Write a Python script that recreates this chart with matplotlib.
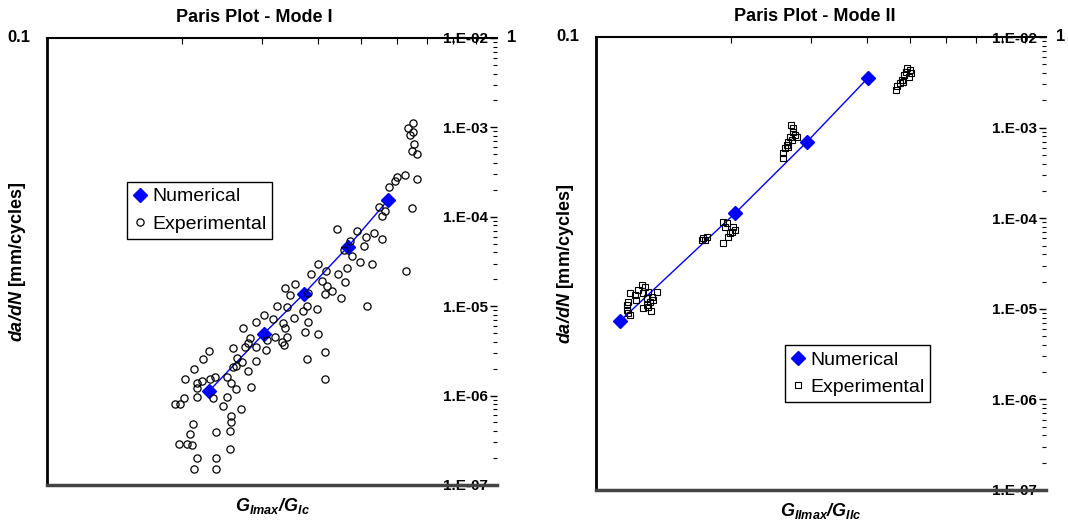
import matplotlib
matplotlib.use("Agg")
import matplotlib.pyplot as plt
from matplotlib.ticker import FixedLocator, LogLocator, NullFormatter
from matplotlib.transforms import ScaledTranslation
import numpy as np

plt.rcParams["font.family"] = "Liberation Sans"
plt.rcParams["mathtext.fontset"] = "custom"
plt.rcParams["mathtext.rm"] = "Liberation Sans"
plt.rcParams["mathtext.it"] = "Liberation Sans:italic"
plt.rcParams["mathtext.bf"] = "Liberation Sans:bold"
plt.rcParams["mathtext.bfit"] = "Liberation Sans:italic:bold"

# Mode I - numerical (Paris law fit)
num1_x = [0.229, 0.303, 0.372, 0.466, 0.573]
num1_y = [1.12e-6, 4.9e-6, 1.37e-5, 4.6e-5, 1.54e-4]

# Mode I - experimental
exp1_x = [0.338, 0.356, 0.347, 0.419, 0.415, 0.380, 0.324, 0.342, 0.398, 0.371,
          0.378, 0.514, 0.303, 0.292, 0.318, 0.334, 0.354, 0.380, 0.272, 0.338,
          0.374, 0.400, 0.283, 0.308, 0.321, 0.333, 0.342, 0.259, 0.280, 0.275,
          0.292, 0.306, 0.336, 0.229, 0.222, 0.264, 0.271, 0.292, 0.378, 0.415,
          0.212, 0.259, 0.263, 0.280, 0.251, 0.236, 0.230, 0.203, 0.221, 0.215,
          0.216, 0.216, 0.234, 0.251, 0.257, 0.263, 0.284, 0.415, 0.246, 0.202,
          0.193, 0.198, 0.270, 0.256, 0.257, 0.211, 0.255, 0.237, 0.208, 0.197,
          0.205, 0.210, 0.255, 0.216, 0.237, 0.212, 0.237, 0.651, 0.634, 0.651,
          0.641, 0.654, 0.647, 0.664, 0.624, 0.664, 0.599, 0.593, 0.575, 0.547,
          0.564, 0.556, 0.647, 0.533, 0.556, 0.512, 0.507, 0.627, 0.442, 0.489,
          0.471, 0.457, 0.476, 0.496, 0.527, 0.464, 0.444, 0.417, 0.408, 0.459,
          0.431, 0.450, 0.400, 0.386]
exp1_y = [1.60e-5, 1.77e-5, 1.33e-5, 1.68e-5, 1.37e-5, 1.40e-5, 1.00e-5, 9.8e-6, 9.3e-6, 8.8e-6,
          1.00e-5, 1.00e-5, 7.98e-6, 6.67e-6, 7.2e-6, 6.5e-6, 7.4e-6, 6.67e-6, 5.7e-6, 5.7e-6,
          5.17e-6, 4.9e-6, 4.4e-6, 4.19e-6, 4.5e-6, 3.98e-6, 4.5e-6, 3.4e-6, 3.88e-6, 3.48e-6,
          3.48e-6, 3.24e-6, 3.68e-6, 3.16e-6, 2.57e-6, 2.64e-6, 2.38e-6, 2.44e-6, 2.57e-6, 3.10e-6,
          1.98e-6, 2.08e-6, 2.14e-6, 1.88e-6, 1.62e-6, 1.62e-6, 1.53e-6, 1.53e-6, 1.45e-6, 1.38e-6,
          1.21e-6, 9.6e-7, 9.4e-7, 9.6e-7, 1.38e-6, 1.18e-6, 1.24e-6, 1.53e-6, 7.6e-7, 9.4e-7,
          8.1e-7, 8.1e-7, 7.1e-7, 5.9e-7, 5.1e-7, 4.8e-7, 4.0e-7, 3.9e-7, 3.7e-7, 2.9e-7,
          2.9e-7, 2.8e-7, 2.5e-7, 2.0e-7, 2.0e-7, 1.5e-7, 1.5e-7, 1.12e-3, 9.8e-4, 8.9e-4,
          8.2e-4, 6.5e-4, 5.45e-4, 5.05e-4, 2.94e-4, 2.65e-4, 2.8e-4, 2.52e-4, 2.14e-4, 1.29e-4,
          1.16e-4, 1.02e-4, 1.25e-4, 6.6e-5, 5.6e-5, 5.9e-5, 4.7e-5, 2.48e-5, 7.3e-5, 6.9e-5,
          5.35e-5, 4.25e-5, 3.64e-5, 3.1e-5, 3.0e-5, 2.66e-5, 2.29e-5, 2.48e-5, 1.9e-5, 1.85e-5,
          1.48e-5, 1.23e-5, 2.95e-5, 2.29e-5]

# Mode II - numerical
num2_x = [0.113, 0.204, 0.294, 0.402]
num2_y = [7.3e-6, 1.14e-4, 6.93e-4, 3.53e-3]

# Mode II - experimental
exp2_x = [0.1265, 0.1285, 0.124, 0.119, 0.122, 0.127, 0.1305, 0.1366, 0.133, 0.130,
          0.123, 0.118, 0.117, 0.132, 0.134, 0.1305, 0.127, 0.1325, 0.117, 0.118,
          0.119, 0.130,
          0.173, 0.1765, 0.175, 0.172, 0.1915, 0.1935, 0.2016, 0.2037, 0.1985, 0.1965,
          0.1915, 0.2005, 0.1955,
          0.271, 0.274, 0.274, 0.277, 0.280, 0.270, 0.267, 0.266, 0.263, 0.260,
          0.260, 0.267, 0.273,
          0.491, 0.489, 0.484, 0.479, 0.474, 0.467, 0.464, 0.481, 0.499, 0.501, 0.496]
exp2_y = [1.83e-5, 1.74e-5, 1.61e-5, 1.49e-5, 1.42e-5, 1.49e-5, 1.53e-5, 1.53e-5, 1.35e-5, 1.32e-5,
          1.25e-5, 1.19e-5, 1.10e-5, 1.19e-5, 1.25e-5, 1.05e-5, 1.02e-5, 9.5e-6, 9.7e-6, 9.0e-6,
          8.55e-6, 1.10e-5,
          6.05e-5, 6.2e-5, 5.75e-5, 5.75e-5, 9.08e-5, 8.0e-5, 8.0e-5, 7.4e-5, 6.87e-5, 6.2e-5,
          5.32e-5, 7.05e-5, 8.85e-5,
          1.07e-3, 9.9e-4, 8.94e-4, 8.28e-4, 7.87e-4, 7.87e-4, 6.93e-4, 6.43e-4, 5.95e-4, 5.24e-4,
          4.62e-4, 6.1e-4, 7.3e-4,
          4.55e-3, 4.11e-3, 3.81e-3, 3.35e-3, 3.11e-3, 2.88e-3, 2.60e-3, 3.19e-3, 4.32e-3, 4.0e-3, 3.62e-3]

x_ticks = [0.1, 1]
x_tick_labels = ["0.1", "1"]
y_ticks = [1e-7, 1e-6, 1e-5, 1e-4, 1e-3, 1e-2]
y_tick_labels = ["1.E-07", "1.E-06", "1.E-05", "1.E-04", "1.E-03", "1.E-02"]


def style_axes(fig, ax):
    ax.set_xscale("log")
    ax.set_yscale("log")
    ax.set_xlim(0.1, 1)
    ax.set_ylim(1e-7, 1e-2)

    ax.spines["right"].set_visible(False)
    ax.spines["left"].set_linewidth(2)
    ax.spines["top"].set_linewidth(1.5)
    ax.spines["bottom"].set_linewidth(2.5)
    ax.spines["bottom"].set_color("#444444")

    # x axis: labels on top, minor ticks pointing down
    ax.xaxis.tick_top()
    ax.xaxis.set_major_locator(FixedLocator(x_ticks))
    ax.xaxis.set_minor_locator(LogLocator(base=10, subs=np.arange(2, 10)))
    ax.xaxis.set_minor_formatter(NullFormatter())
    ax.set_xticks(x_ticks, labels=x_tick_labels)
    ax.tick_params(axis="x", which="major", length=0, pad=-5,
                   labelsize=12)
    ax.tick_params(axis="x", which="minor", direction="in", length=4,
                   width=0.8)
    for lbl in ax.get_xticklabels():
        lbl.set_fontweight("bold")
    ticks = ax.xaxis.get_major_ticks()
    ticks[0].label2.set_horizontalalignment("right")
    ticks[0].label2.set_transform(ticks[0].label2.get_transform()
                                  + ScaledTranslation(-12 / 72, 0, fig.dpi_scale_trans))
    ticks[1].label2.set_horizontalalignment("left")
    ticks[1].label2.set_transform(ticks[1].label2.get_transform()
                                  + ScaledTranslation(7 / 72, 0, fig.dpi_scale_trans))

    # y axis: ticks on right edge, labels inside the box
    ax.yaxis.tick_right()
    ax.yaxis.set_label_position("left")
    ax.set_yticks(y_ticks, labels=y_tick_labels)
    ax.yaxis.set_minor_locator(LogLocator(base=10, subs=np.arange(2, 10), numticks=50))
    ax.yaxis.set_minor_formatter(NullFormatter())
    ax.tick_params(axis="y", which="major", direction="in", length=5,
                   width=1, pad=-6.5, labelsize=11)
    ax.tick_params(axis="y", which="minor", direction="in", length=3,
                   width=0.8)
    for tick in ax.yaxis.get_major_ticks():
        tick.label2.set_horizontalalignment("right")
        tick.label2.set_fontweight("bold")


def add_legend(ax, anchor):
    ax.legend(loc="upper left", bbox_to_anchor=anchor,
              borderaxespad=0, fontsize=14, frameon=True, fancybox=False,
              edgecolor="black", framealpha=1, handlelength=0.7,
              handletextpad=0.3, borderpad=0.3, labelspacing=0.5)


def main():
    fig = plt.figure(figsize=(10.68, 5.23), dpi=100)
    ax1 = fig.add_axes([0.044, 0.0727, 0.4213, 0.8547])
    ax2 = fig.add_axes([0.558, 0.0631, 0.4213, 0.866])

    # Mode I
    ax1.plot(num1_x, num1_y, color="blue", lw=1)
    ax1.plot(num1_x, num1_y, "D", color="blue", ms=7, ls="none",
             label="Numerical")
    ax1.plot(exp1_x, exp1_y, "o", mfc="none", mec="black", mew=0.9, ms=5.2,
             ls="none", label="Experimental")
    style_axes(fig, ax1)
    ax1.set_title("Paris Plot - Mode I", fontsize=13, fontweight="bold",
                  x=0.46, pad=6)
    ax1.set_ylabel(r"$\mathbfit{da/dN}$ [mm/cycles]", fontsize=13,
                   fontweight="bold", labelpad=14)
    ax1.set_xlabel(r"$\mathbfit{G_{Imax}/G_{Ic}}$", fontsize=13, labelpad=8)
    add_legend(ax1, (0.178, 0.678))

    # Mode II
    ax2.plot(num2_x, num2_y, color="blue", lw=1)
    ax2.plot(num2_x, num2_y, "D", color="blue", ms=7, ls="none",
             label="Numerical")
    ax2.plot(exp2_x, exp2_y, "s", mfc="none", mec="black", mew=0.8, ms=4.8,
             ls="none", label="Experimental")
    style_axes(fig, ax2)
    ax2.set_title("Paris Plot - Mode II", fontsize=13, fontweight="bold",
                  x=0.487, pad=6)
    ax2.set_ylabel(r"$\mathbfit{da/dN}$ [mm/cycles]", fontsize=13,
                   fontweight="bold", labelpad=14)
    ax2.set_xlabel(r"$\mathbfit{G_{IImax}/G_{IIc}}$", fontsize=13, labelpad=8)
    add_legend(ax2, (0.42, 0.32))

    fig.savefig("out.png", dpi=100)


if __name__ == "__main__":
    main()
